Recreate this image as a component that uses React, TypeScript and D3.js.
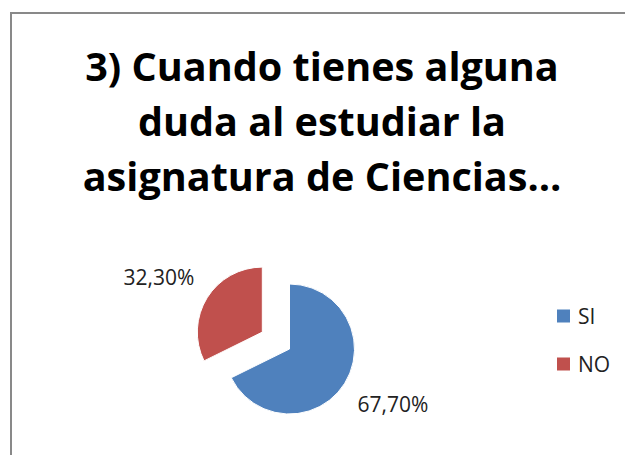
import React from "react";
import * as d3 from "d3";

const categories = ["SI", "NO"];
const values = [67.7, 32.3];
const labels = ["67,70%", "32,30%"];
const titleLines = ["3) Cuando tienes alguna", "duda al estudiar la", "asignatura de Ciencias…"];
const colors = ["#4F81BD", "#C0504D"];

export default function App() {
  const W = 625, H = 455;
  const cx = 289.5, cy = 349, r = 65;
  const explode = [0, 32];
  const labelR = 117;
  const labelShift = (-4 * Math.PI) / 180;

  const pie = d3.pie<number>().sort(null).startAngle(0).endAngle(2 * Math.PI);
  const arcs = pie(values);
  const arcGen = d3.arc<d3.PieArcDatum<number>>().innerRadius(0).outerRadius(r);
  const labelArc = d3.arc<d3.PieArcDatum<number>>().innerRadius(labelR).outerRadius(labelR);

  const font = "'Open Sans', 'DejaVu Sans', sans-serif";

  return (
    <svg width={W} height={H} style={{ position: "absolute", left: 0, top: 0, background: "#fff" }} fontFamily={font}>
      <rect x={11} y={13} width={W + 20} height={H + 20} fill="#fff" stroke="#898989" strokeWidth={2} />
      {titleLines.map((t, i) => (
        <text key={i} x={322} y={81 + i * 55} textAnchor="middle" fontSize={39.6} fontWeight={700} fill="#000">
          {t}
        </text>
      ))}
      {arcs.map((a, i) => {
        const mid = (a.startAngle + a.endAngle) / 2;
        const dx = Math.sin(mid) * explode[i];
        const dy = -Math.cos(mid) * explode[i];
        const [lx, ly] = labelArc.centroid({
          ...a,
          startAngle: a.startAngle + labelShift,
          endAngle: a.endAngle + labelShift,
        });
        return (
          <g key={i} transform={`translate(${cx + dx},${cy + dy})`}>
            <path d={arcGen(a) || ""} fill={colors[i]} stroke="#fff" strokeWidth={1} />
            <text x={lx} y={ly} textAnchor="middle" dominantBaseline="central" fontSize={21} fill="#222">
              {labels[i]}
            </text>
          </g>
        );
      })}
      {categories.map((c, i) => (
        <g key={c} transform={`translate(557,${316 + i * 48})`}>
          <rect x={0} y={-6.5} width={13} height={13} fill={colors[i]} />
          <text x={21} y={0} dominantBaseline="central" fontSize={21} fill="#222">
            {c}
          </text>
        </g>
      ))}
    </svg>
  );
}
